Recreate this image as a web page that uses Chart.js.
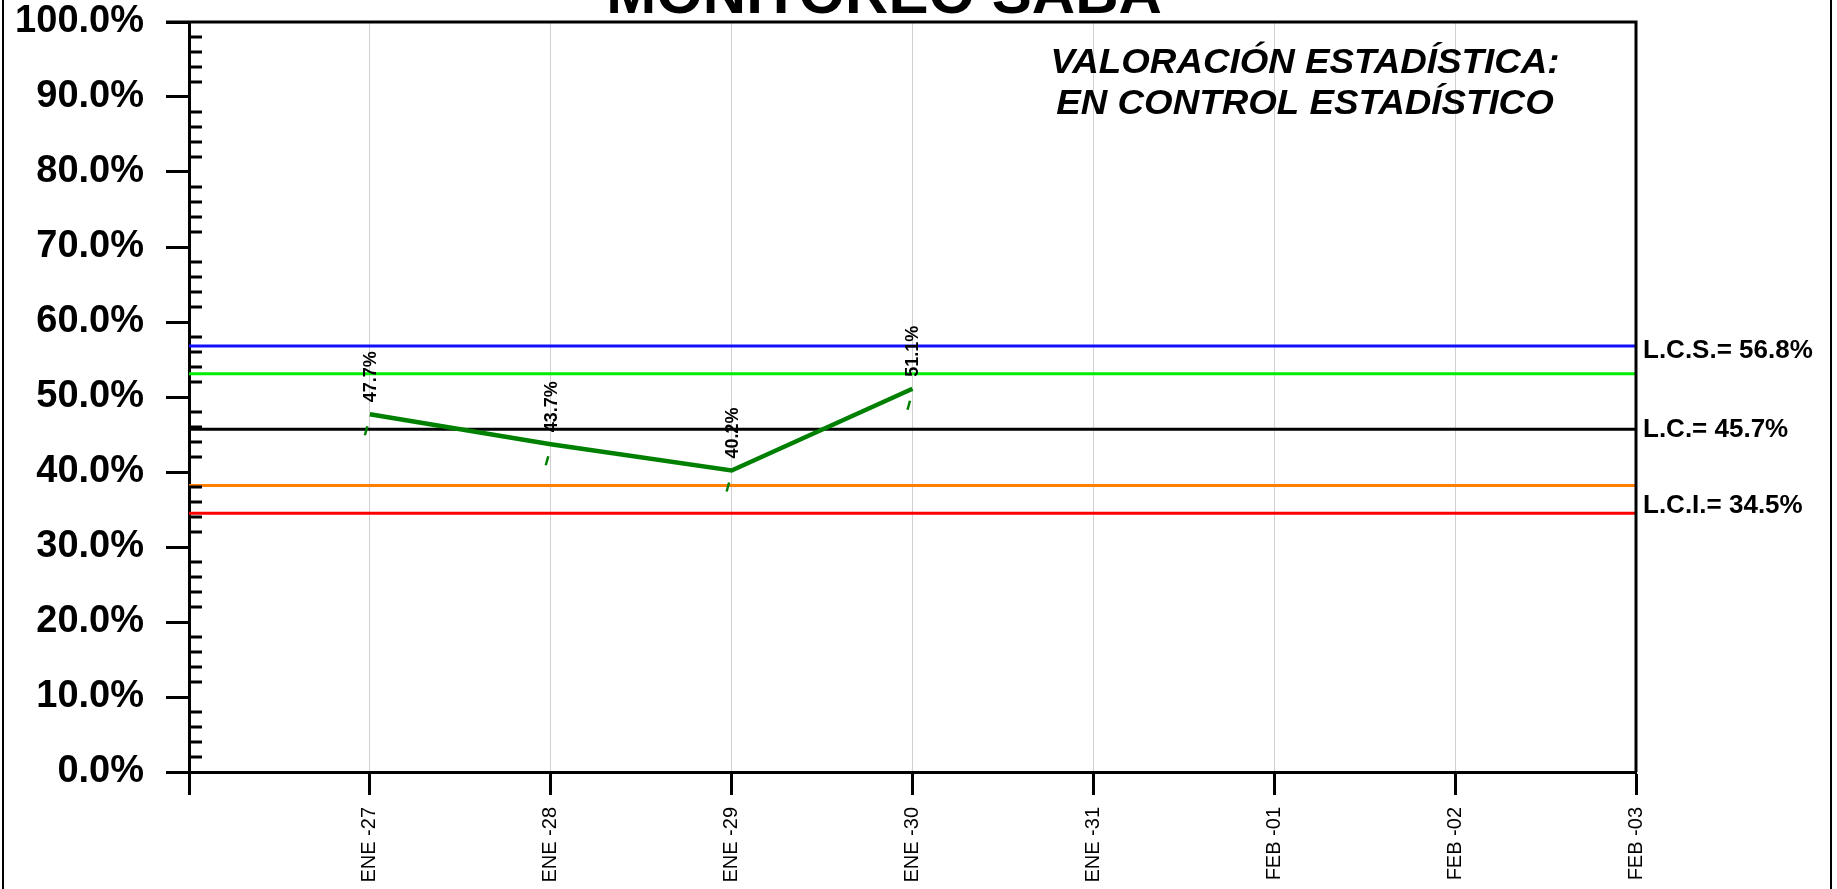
<!DOCTYPE html>
<html>
<head>
<meta charset="utf-8">
<script src="https://cdn.jsdelivr.net/npm/chart.js@4.4.1/dist/chart.umd.min.js"></script>
<style>
    html, body { margin: 0; padding: 0; background: #fff; }
    #spcChart { display: block; }
</style>
</head>
<body>
<canvas id="spcChart" width="1837" height="889"></canvas>
<script>
// categories on the x axis (first slot left empty so the axis starts one step before ENE -27)
const categories = ['ENE -27', 'ENE -28', 'ENE -29', 'ENE -30', 'ENE -31', 'FEB -01', 'FEB -02', 'FEB -03'];
// measured percentage per day
const values = [47.7, 43.7, 40.2, 51.1];
// control limits, top to bottom
const limitNames = ['L.C.S.', '', 'L.C.', '', 'L.C.I.'];
const limitValues = [56.8, 53.1, 45.7, 38.2, 34.5];
const limitColors = ['#1010ff', '#00ee00', '#000000', '#ff8000', '#ff0000'];

const FONT = "'Liberation Sans', Arial, sans-serif";
const labels = [''].concat(categories);

/**
 * Extra drawing: plot frame, minor ticks, point labels, little dash markers,
 * limit captions on the right and the page texts.
 */
const decorations = {
    id: 'decorations',
    afterDatasetsDraw(chart) {
        const { ctx, chartArea: a, scales: { y } } = chart;
        ctx.save();

        // top and right border of the plot (top one starts where the major ticks start)
        ctx.strokeStyle = '#000';
        ctx.lineWidth = 3;
        ctx.beginPath();
        ctx.moveTo(a.left - 23, a.top);
        ctx.lineTo(a.right, a.top);
        ctx.lineTo(a.right, a.bottom);
        ctx.stroke();

        // minor ticks every 2% pointing inside
        ctx.beginPath();
        for (let v = y.min; v < y.max; v += 2) {
            if (v % 10 === 0) continue;
            const py = y.getPixelForValue(v);
            ctx.moveTo(a.left, py);
            ctx.lineTo(a.left + 13, py);
        }
        ctx.stroke();

        // data labels and dash markers of the main series
        const meta = chart.getDatasetMeta(0);
        meta.data.forEach((pt, i) => {
            const v = chart.data.datasets[0].data[i];
            if (v === null || v === undefined) return;

            ctx.strokeStyle = '#008000';
            ctx.lineWidth = 2.5;
            ctx.beginPath();
            ctx.moveTo(pt.x - 2.5, pt.y + 12);
            ctx.lineTo(pt.x - 5, pt.y + 21);
            ctx.stroke();

            ctx.save();
            ctx.translate(pt.x + 1, pt.y - 12);
            ctx.rotate(-Math.PI / 2);
            ctx.fillStyle = '#000';
            ctx.font = 'bold 18px ' + FONT;
            ctx.textAlign = 'left';
            ctx.textBaseline = 'middle';
            ctx.fillText(v.toFixed(1) + '%', 0, 0);
            ctx.restore();
        });

        // captions of the control limits
        const captionShift = [12, 0, 8, 0, 0];
        ctx.fillStyle = '#000';
        ctx.font = 'bold 26px ' + FONT;
        ctx.textAlign = 'left';
        ctx.textBaseline = 'alphabetic';
        limitValues.forEach((v, i) => {
            if (!limitNames[i]) return;
            const py = y.getPixelForValue(v);
            ctx.fillText(limitNames[i] + '= ' + v.toFixed(1) + '%', a.right + 7, py + captionShift[i]);
        });

        // title (cut by the top of the picture)
        ctx.font = 'bold 60px ' + FONT;
        ctx.textAlign = 'center';
        ctx.fillText('MONITOREO SABA', 884, 13);

        // statistical assessment, drawn a bit wide like the original
        ctx.save();
        ctx.translate(1305, 0);
        ctx.scale(1.05, 1);
        ctx.font = 'italic bold 35px ' + FONT;
        ctx.fillText('VALORACIÓN ESTADÍSTICA:', 0, 73);
        ctx.fillText('EN CONTROL ESTADÍSTICO', 0, 114);
        ctx.restore();

        // outer frame
        ctx.fillStyle = '#000';
        ctx.fillRect(2, 0, 2, chart.height);
        ctx.fillRect(1830, 0, 2, chart.height);

        ctx.restore();
    }
};

const datasets = [{
    label: 'Monitoreo',
    data: [null].concat(values),
    borderColor: '#008000',
    borderWidth: 4.5,
    pointRadius: 0,
    tension: 0,
    spanGaps: false
}];

limitValues.forEach((v, i) => {
    datasets.push({
        label: limitNames[i] || 'limite ' + i,
        data: labels.map(() => v),
        borderColor: limitColors[i],
        borderWidth: 3,
        pointRadius: 0,
        tension: 0
    });
});

new Chart(document.getElementById('spcChart').getContext('2d'), {
    type: 'line',
    data: { labels: labels, datasets: datasets },
    options: {
        responsive: false,
        animation: false,
        devicePixelRatio: 1,
        layout: { padding: { top: 0, right: 201, left: 0, bottom: 0 } },
        plugins: {
            legend: { display: false },
            tooltip: { enabled: false }
        },
        scales: {
            x: {
                type: 'category',
                offset: false,
                border: { display: true, color: '#000', width: 3 },
                grid: {
                    color: ctx => ctx.index === 0 ? 'rgba(0,0,0,0)' : '#d0d0d0',
                    lineWidth: 1,
                    tickColor: '#000',
                    tickWidth: 3,
                    tickLength: 23
                },
                ticks: {
                    autoSkip: false,
                    minRotation: 90,
                    maxRotation: 90,
                    padding: 12,
                    color: '#000',
                    font: { family: FONT, size: 20 }
                },
                afterFit(scale) {
                    scale.height = 117;
                }
            },
            y: {
                min: 0,
                max: 100,
                border: { display: true, color: '#000', width: 3 },
                grid: {
                    drawOnChartArea: false,
                    tickColor: '#000',
                    tickWidth: 3,
                    tickLength: 23
                },
                ticks: {
                    stepSize: 10,
                    padding: 22,
                    color: '#000',
                    font: { family: FONT, size: 38, weight: 'bold' },
                    callback: v => v.toFixed(1) + '%'
                },
                afterFit(scale) {
                    scale.width = 189;
                    // tick padding is otherwise added above the top label too
                    scale.paddingTop = 22;
                    scale.paddingBottom = 22;
                }
            }
        }
    },
    plugins: [decorations]
});
</script>
</body>
</html>
